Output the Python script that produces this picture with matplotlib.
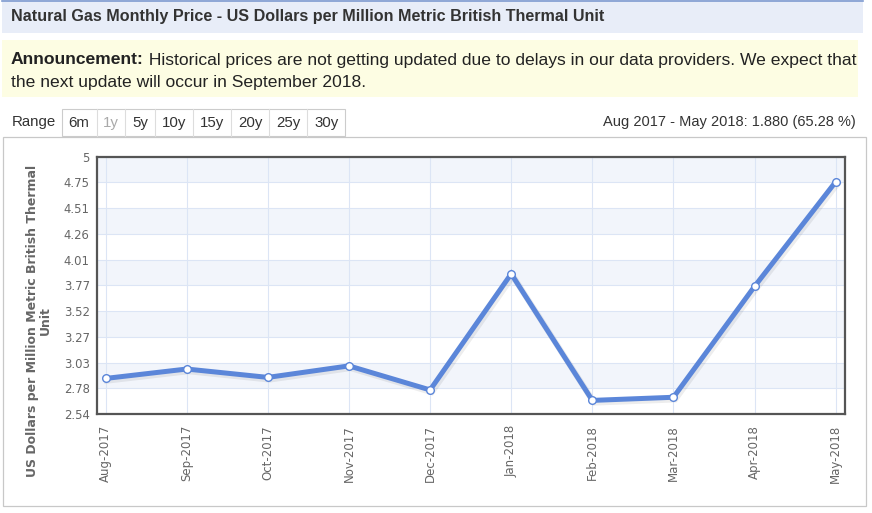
import matplotlib
matplotlib.use('Agg')
import matplotlib.pyplot as plt
from matplotlib.patches import Rectangle
import numpy as np

# data
months = ['Aug-2017', 'Sep-2017', 'Oct-2017', 'Nov-2017', 'Dec-2017',
          'Jan-2018', 'Feb-2018', 'Mar-2018', 'Apr-2018', 'May-2018']
prices = [2.88, 2.97, 2.89, 3.00, 2.77, 3.88, 2.67, 2.70, 3.76, 4.76]
ytick_labels = ['2.54', '2.78', '3.03', '3.27', '3.52', '3.77',
                '4.01', '4.26', '4.51', '4.75', '5']
range_buttons = ['6m', '1y', '5y', '10y', '15y', '20y', '25y', '30y']

title = 'Natural Gas Monthly Price - US Dollars per Million Metric British Thermal Unit'
note_bold = 'Announcement:'
note_line1 = ' Historical prices are not getting updated due to delays in our data providers. We expect that'
note_line2 = 'the next update will occur in September 2018.'
change_text = 'Aug 2017 - May 2018: 1.880 (65.28 %)'
ylabel = 'US Dollars per Million Metric British Thermal\nUnit'

W, H = 872, 513
fig = plt.figure(figsize=(W / 100, H / 100), dpi=100)

# page layer in pixel coordinates
bg = fig.add_axes([0, 0, 1, 1])
bg.set_xlim(0, W)
bg.set_ylim(H, 0)
bg.axis('off')

web = 'Liberation Sans'

# header bar
bg.add_patch(Rectangle((2, 0), 861, 33, fc='#e8edf8', ec='none'))
bg.plot([2, 863], [0.7, 0.7], color='#7f9bd0', lw=1.2)
bg.text(11, 17, title, fontsize=11.6, fontweight='bold', family=web,
        color='#333333', va='center')

# announcement box
bg.add_patch(Rectangle((2, 40), 856, 57, fc='#fdfde3', ec='none'))
t = bg.text(11, 60, note_bold, fontsize=12.6, fontweight='bold', family=web,
            color='#222222', va='center')
fig.canvas.draw()
bb = t.get_window_extent().transformed(bg.transData.inverted())
bg.text(bb.x1, 60, note_line1, fontsize=12.6, family=web, color='#222222', va='center')
bg.text(11, 83, note_line2, fontsize=12.6, family=web, color='#222222', va='center')

# range selector
bg.text(12, 122, 'Range', fontsize=10.8, family=web, color='#333333', va='center')
edges = [61.5, 96.5, 125, 155.3, 193.3, 231.3, 269.3, 307.3, 345]
bg.add_patch(Rectangle((edges[0], 109), edges[-1] - edges[0], 27, fc='white',
                       ec='#cccccc', lw=0.8))
for i, lab in enumerate(range_buttons):
    if i > 0:
        bg.plot([edges[i], edges[i]], [109, 136], color='#dddddd', lw=0.8)
    bg.text((edges[i] + edges[i + 1]) / 2, 123, lab, fontsize=10.8, family=web,
            color='#aaaaaa' if lab == '1y' else '#333333', ha='center', va='center')

bg.text(856, 122, change_text, fontsize=10.5, family=web, color='#333333',
        ha='right', va='center')

# chart container
bg.add_patch(Rectangle((2.5, 136.5), 863, 369, fc='none', ec='#c8c8c8', lw=0.9))

# plot area
left, right, top, bottom = 96.7, 845, 156.7, 414
ax = fig.add_axes([left / W, 1 - bottom / H, (right - left) / W, (bottom - top) / H])
x = np.arange(len(months))
yticks = np.linspace(2.54, 5, len(ytick_labels))

for i in range(len(yticks) - 1):
    if (len(yticks) - 2 - i) % 2 == 0:
        ax.axhspan(yticks[i], yticks[i + 1], color='#f2f5fb', lw=0, zorder=0)
for yv in yticks:
    ax.axhline(yv, color='#dce5f5', lw=0.8, zorder=1)
for xv in x:
    ax.axvline(xv, color='#dce5f5', lw=0.8, zorder=1)

# soft shadow then the line
ax.plot(x + 0.02, np.array(prices) - 0.02, color='#000000', alpha=0.07, lw=4.5, zorder=2,
        solid_joinstyle='miter')
ax.plot(x, prices, color='#5b86d9', lw=3.6, zorder=3, solid_joinstyle='miter',
        marker='o', markersize=5.5, markerfacecolor='white',
        markeredgecolor='#5b86d9', markeredgewidth=1.0)

ax.set_xlim(-0.11, 9.115)
ax.set_ylim(2.54, 5)
ax.set_yticks(yticks)
ax.set_yticklabels(ytick_labels)
ax.set_xticks(x)
ax.set_xticklabels(months, rotation=90, va='top', ha='center')
ax.tick_params(axis='y', length=0, pad=5, labelsize=8.4, labelcolor='#666666')
ax.tick_params(axis='x', length=0, pad=8, labelsize=8.5, labelcolor='#666666')
for s in ax.spines.values():
    s.set_color('#555555')
    s.set_linewidth(1.6)
ax.set_facecolor('white')

fig.text(39 / W, 1 - 321 / H, ylabel, rotation=90, ha='center', va='center',
         fontsize=9, fontweight='bold', color='#666666', linespacing=1.05,
         multialignment='center')

fig.savefig('out.png', dpi=100)
